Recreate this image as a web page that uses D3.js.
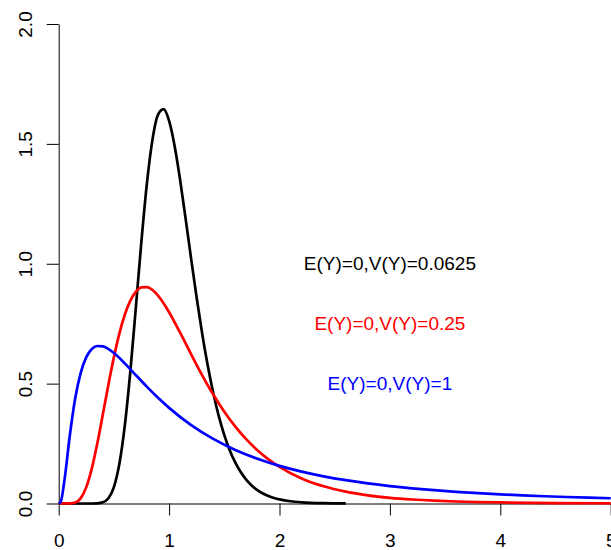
<!DOCTYPE html>
<html>
<head>
<meta charset="utf-8">
<script src="https://cdn.jsdelivr.net/npm/d3@7"></script>
<style>
  body { margin: 0; background: #fff; }
  text { font-family: "Liberation Sans", Arial, sans-serif; }
</style>
</head>
<body>
<div id="chart"></div>
<script>
// Density curves
const blackX = [0, 0.3, 0.35, 0.4, 0.45, 0.5, 0.55, 0.6, 0.65, 0.7, 0.75, 0.8, 0.85, 0.9, 0.95, 1.0,
    1.05, 1.1, 1.15, 1.2, 1.25, 1.3, 1.35, 1.4, 1.45, 1.5, 1.55, 1.6, 1.65, 1.7, 1.75, 1.8, 1.85, 1.9, 1.95, 2.0,
    2.1, 2.2, 2.4, 2.6];
const blackY = [0, 0.0001, 0.0007, 0.0048, 0.0216, 0.0684, 0.1664, 0.3298, 0.5562, 0.8238, 1.0973, 1.3394, 1.5198, 1.6223, 1.6448, 1.5958,
    1.4911, 1.3490, 1.1868, 1.0193, 0.8573, 0.7076, 0.5751, 0.4607, 0.3646, 0.2855, 0.2214, 0.1704, 0.1301, 0.0987, 0.0745, 0.0559, 0.0418, 0.0311, 0.0231, 0.0171,
    0.0093, 0.0050, 0.0014, 0.0004];

const redX = [0, 0.1, 0.15, 0.2, 0.25, 0.3, 0.35, 0.4, 0.45, 0.5, 0.55, 0.6, 0.65, 0.7, 0.75, 0.8, 0.85, 0.9, 0.95, 1.0,
    1.1, 1.2, 1.3, 1.4, 1.5, 1.6, 1.7, 1.8, 1.9, 2.0, 2.2, 2.4, 2.6, 2.8, 3.0, 3.2, 3.4, 3.6, 3.8, 4.0, 4.5, 5.0];
const redY = [0, 0.0002, 0.0040, 0.0225, 0.0684, 0.1465, 0.2515, 0.3721, 0.4953, 0.6105, 0.7099, 0.7892, 0.8469, 0.8838, 0.9016, 0.9029, 0.8904, 0.8671, 0.8355, 0.7979,
    0.7123, 0.6222, 0.5348, 0.4544, 0.3829, 0.3206, 0.2673, 0.2221, 0.1842, 0.1526, 0.1046, 0.0718, 0.0494, 0.0342, 0.0238, 0.0167, 0.0117, 0.0083, 0.0059, 0.0043, 0.0019, 0.0009];

const blueX = [0, 0.02, 0.05, 0.1, 0.15, 0.2, 0.25, 0.3, 0.35, 0.4, 0.5, 0.6, 0.7, 0.8, 0.9, 1.0,
    1.2, 1.4, 1.6, 1.8, 2.0, 2.2, 2.4, 2.6, 2.8, 3.0, 3.2, 3.4, 3.6, 3.8, 4.0, 4.2, 4.4, 4.6, 4.8, 5.0];
const blueY = [0, 0.0095, 0.0898, 0.2815, 0.4399, 0.5463, 0.6105, 0.6442, 0.6570, 0.6555, 0.6275, 0.5836, 0.5348, 0.4864, 0.4408, 0.3989,
    0.3270, 0.2693, 0.2233, 0.1865, 0.1569, 0.1329, 0.1133, 0.0972, 0.0839, 0.0727, 0.0634, 0.0555, 0.0488, 0.0431, 0.0382, 0.0339, 0.0303, 0.0271, 0.0243, 0.0219];

// Series labels
const labels = ["E(Y)=0,V(Y)=0.0625", "E(Y)=0,V(Y)=0.25", "E(Y)=0,V(Y)=1"];
const labelX = [3, 3, 3];
const labelY = [1.0, 0.75, 0.5];
const colors = ["#000000", "#ff0000", "#0000ff"];

// Tick values
const xTicks = [0, 1, 2, 3, 4, 5];
const yTicks = [0, 0.5, 1.0, 1.5, 2.0];

const W = 611, H = 550;

const svg = d3.select("#chart")
    .append("svg")
    .attr("width", W)
    .attr("height", H);

const x = d3.scaleLinear().domain([0, 5]).range([58.7, 610.7]);
const y = d3.scaleLinear().domain([0, 2]).range([503.5, 24]);

// Axes
const xAxis = svg.append("g")
    .attr("transform", `translate(0,${y(0)})`)
    .call(d3.axisBottom(x).tickValues(xTicks).tickFormat(d3.format("d"))
        .tickSize(12).tickSizeOuter(0).tickPadding(18));

const yAxis = svg.append("g")
    .attr("transform", `translate(${x(0)},0)`)
    .call(d3.axisLeft(y).tickValues(yTicks).tickFormat(d3.format(".1f"))
        .tickSize(12).tickSizeOuter(0));

yAxis.selectAll("text")
    .attr("transform", "rotate(-90)")
    .attr("x", 0)
    .attr("y", -26.5)
    .attr("dy", 0)
    .style("text-anchor", "middle");

[xAxis, yAxis].forEach(a => {
    a.selectAll("text").attr("font-size", 19).attr("fill", "#000")
        .attr("font-family", "'Liberation Sans', Arial, sans-serif");
    a.selectAll("line").attr("stroke", "#000");
    a.select(".domain").attr("stroke", "#000");
});

// Curves
const line = d3.line()
    .x(d => x(d[0]))
    .y(d => y(d[1]))
    .curve(d3.curveMonotoneX);

const series = [
    [blackX, blackY],
    [redX, redY],
    [blueX, blueY]
];

series.forEach((s, i) => {
    svg.append("path")
        .datum(s[0].map((v, j) => [v, s[1][j]]))
        .attr("fill", "none")
        .attr("stroke", colors[i])
        .attr("stroke-width", 2.7)
        .attr("stroke-linejoin", "round")
        .attr("d", line);
});

// Labels
labels.forEach((t, i) => {
    svg.append("text")
        .attr("x", x(labelX[i]))
        .attr("y", y(labelY[i]))
        .attr("dy", "0.35em")
        .attr("text-anchor", "middle")
        .attr("font-size", 19)
        .attr("fill", colors[i])
        .text(t);
});
</script>
</body>
</html>
